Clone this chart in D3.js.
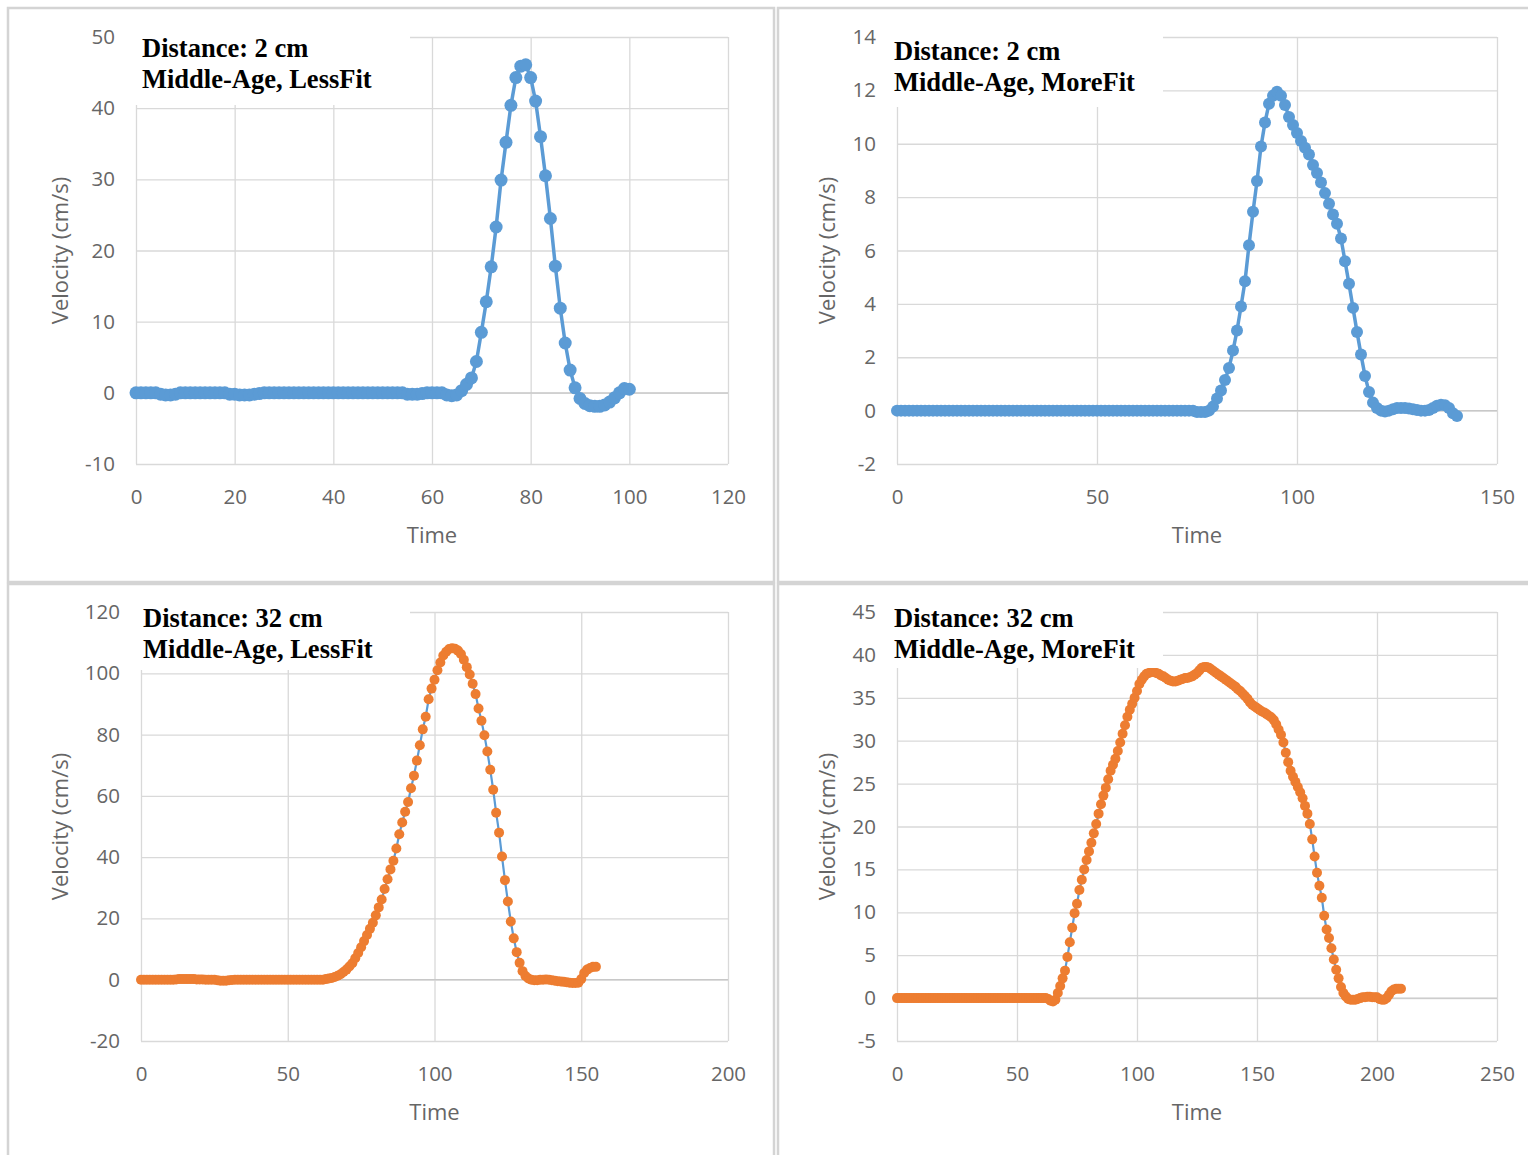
<!DOCTYPE html>
<html><head><meta charset="utf-8">
<script src="https://cdn.jsdelivr.net/npm/d3@7"></script>
<style>html,body{margin:0;padding:0;background:#fff;} svg{display:block;}</style>
</head><body><svg id="chart" width="1528" height="1155"></svg>
<script>
// ---------------- DATA (velocity in cm/s, one value per time step) ----------------
const vel2cmLessFit = [
  0,0,0,0,0,-0.2,-0.3,-0.3,-0.2,0,
  0,0,0,0,0,0,0,0,0,-0.2,
  -0.2,-0.3,-0.3,-0.3,-0.2,-0.1,0,0,0,0,
  0,0,0,0,0,0,0,0,0,0,
  0,0,0,0,0,0,0,0,0,0,
  0,0,0,0,0,-0.2,-0.2,-0.2,-0.1,0,
  0,0,0,-0.3,-0.4,-0.3,0.3,1.2,2.1,4.4,
  8.5,12.8,17.7,23.3,29.9,35.2,40.4,44.3,45.9,46.1,
  44.3,41.0,36.0,30.5,24.5,17.8,11.9,7.0,3.2,0.7,
  -0.8,-1.5,-1.8,-1.9,-1.9,-1.7,-1.3,-0.7,0,0.6,
  0.5
];
const vel2cmMoreFit = [
  0,0,0,0,0,0,0,0,0,0,
  0,0,0,0,0,0,0,0,0,0,
  0,0,0,0,0,0,0,0,0,0,
  0,0,0,0,0,0,0,0,0,0,
  0,0,0,0,0,0,0,0,0,0,
  0,0,0,0,0,0,0,0,0,0,
  0,0,0,0,0,0,0,0,0,0,
  0,0,0,0,0,-0.05,-0.05,-0.05,0,0.15,
  0.45,0.75,1.15,1.6,2.25,3.0,3.9,4.85,6.2,7.45,
  8.6,9.9,10.8,11.5,11.8,11.95,11.8,11.45,11.0,10.7,
  10.4,10.1,9.85,9.6,9.2,8.9,8.55,8.15,7.75,7.35,
  7.0,6.45,5.6,4.75,3.85,2.95,2.1,1.3,0.7,0.3,
  0.1,0.0,-0.03,0.0,0.05,0.1,0.1,0.1,0.08,0.05,
  0.02,0,0,0.02,0.1,0.18,0.22,0.2,0.1,-0.1,
  -0.2
];
const vel32cmLessFit = [
  0,0,0,0,0,0,0,0,0,0,
  0,0,0.1,0.2,0.2,0.2,0.2,0.2,0.2,0.1,
  0.1,0.1,0,0,0,0,-0.2,-0.3,-0.3,-0.3,
  -0.2,-0.1,0,0,0,0,0,0,0,0,
  0,0,0,0,0,0,0,0,0,0,
  0,0,0,0,0,0,0,0,0,0,
  0,0,0,0.2,0.4,0.6,0.9,1.3,1.8,2.5,
  3.3,4.3,5.4,7.0,8.7,10.6,12.6,14.6,16.6,18.6,
  21.0,23.6,26.2,29.6,32.8,36.0,38.8,42.8,47.5,51.3,
  54.8,58.0,62.5,66.6,71.5,76.5,81.7,85.8,91.5,95.0,
  97.9,101.0,103.5,105.8,107.0,107.9,108.2,108.0,107.4,106.3,
  104.4,102.0,99.6,96.6,93.2,88.5,84.5,79.8,74.5,68.5,
  62.0,54.5,48.0,40.2,32.5,25.5,19.0,13.5,9.0,5.5,
  2.8,1.2,0.4,0.0,-0.2,-0.2,0,0,0.1,0,
  -0.2,-0.3,-0.5,-0.6,-0.7,-0.8,-1.0,-1.1,-1.1,-1.0,
  0.2,2.2,3.3,3.8,4.2,4.2
];
const vel32cmMoreFit = [
  0,0,0,0,0,0,0,0,0,0,
  0,0,0,0,0,0,0,0,0,0,
  0,0,0,0,0,0,0,0,0,0,
  0,0,0,0,0,0,0,0,0,0,
  0,0,0,0,0,0,0,0,0,0,
  0,0,0,0,0,0,0,0,0,0,
  0,0,0,-0.1,-0.3,-0.4,-0.2,0.6,1.4,2.3,
  3.2,4.8,6.5,8.2,9.9,11.0,12.6,13.8,15.0,16.1,
  17.1,18.1,19.2,20.3,21.5,22.6,23.6,24.5,25.5,26.5,
  27.2,27.9,28.8,29.8,30.8,31.8,32.8,33.6,34.3,35.0,
  35.8,36.6,37.1,37.5,37.8,37.9,38.0,38.0,37.9,37.8,
  37.6,37.5,37.3,37.1,37.0,36.9,36.9,37.0,37.1,37.2,
  37.3,37.3,37.4,37.5,37.7,37.9,38.2,38.5,38.6,38.6,
  38.5,38.3,38.1,37.9,37.7,37.5,37.3,37.1,36.9,36.7,
  36.5,36.3,36.0,35.8,35.5,35.2,34.9,34.5,34.2,34.0,
  33.8,33.6,33.4,33.3,33.1,32.9,32.7,32.4,31.9,31.3,
  30.7,29.8,28.6,27.5,26.5,25.8,25.2,24.6,24.0,23.3,
  22.4,21.5,20.3,18.5,16.5,14.6,13.1,11.7,9.6,8.0,
  7.0,5.8,4.5,3.3,2.3,1.3,0.6,0.2,-0.1,-0.2,
  -0.2,-0.2,-0.1,0,0.1,0.1,0.15,0.15,0.1,0.1,
  0.1,-0.1,-0.2,-0.2,0.0,0.4,0.8,1.0,1.1,1.1,
  1.1
];

const xTicksA = [0,20,40,60,80,100,120];
const yTicksA = [-10,0,10,20,30,40,50];
const xTicksB = [0,50,100,150];
const yTicksB = [-2,0,2,4,6,8,10,12,14];
const xTicksC = [0,50,100,150,200];
const yTicksC = [-20,0,20,40,60,80,100,120];
const xTicksD = [0,50,100,150,200,250];
const yTicksD = [-5,0,5,10,15,20,25,30,35,40,45];

const titleLine1 = ["Distance: 2 cm","Distance: 2 cm","Distance: 32 cm","Distance: 32 cm"];
const titleLine2 = ["Middle-Age, LessFit","Middle-Age, MoreFit","Middle-Age, LessFit","Middle-Age, MoreFit"];
const xAxisTitle = "Time";
const yAxisTitle = "Velocity (cm/s)";

// ---------------- LAYOUT ----------------
const BLUE = "#5B9BD5", ORANGE = "#ED7D31", GRID = "#d9d9d9", LABEL = "#666666";
const TICKFONT = "'Open Sans', 'Liberation Sans', sans-serif";

const panels = [
  {values: vel2cmLessFit, xTicks: xTicksA, yTicks: yTicksA,
   frame: [8, 8, 766, 574], plot: {l: 136, r: 728, t: 37, b: 464},
   box: [134, 27, 276, 78], text: [142, 57, 88], fill: BLUE, r: 6.5, lw: 3.5, yTitleX: 68},
  {values: vel2cmMoreFit, xTicks: xTicksB, yTicks: yTicksB,
   frame: [778, 8, 760, 574], plot: {l: 897, r: 1497, t: 37, b: 464},
   box: [889, 27, 274, 80], text: [894, 60, 91], fill: BLUE, r: 6, lw: 3.5, yTitleX: 835},
  {values: vel32cmLessFit, xTicks: xTicksC, yTicks: yTicksC,
   frame: [8, 584, 766, 580], plot: {l: 141, r: 728, t: 612, b: 1041},
   box: [134, 600, 276, 70], text: [143, 627, 658], fill: ORANGE, r: 5, lw: 2.2, yTitleX: 68},
  {values: vel32cmMoreFit, xTicks: xTicksD, yTicks: yTicksD,
   frame: [778, 584, 760, 580], plot: {l: 897, r: 1497, t: 612, b: 1041},
   box: [889, 600, 274, 68], text: [894, 627, 658], fill: ORANGE, r: 5, lw: 2.2, yTitleX: 835}
];

const svg = d3.select("#chart");
svg.append("rect").attr("width", 1528).attr("height", 1155).attr("fill", "#fff");

panels.forEach((p, i) => {
  const g = svg.append("g");
  // panel frame
  g.append("rect").attr("x", p.frame[0]).attr("y", p.frame[1])
    .attr("width", p.frame[2]).attr("height", p.frame[3])
    .attr("fill", "#fff").attr("stroke", "#d4d4d4").attr("stroke-width", 2.5);

  const x = d3.scaleLinear().domain(d3.extent(p.xTicks)).range([p.plot.l, p.plot.r]);
  const y = d3.scaleLinear().domain(d3.extent(p.yTicks)).range([p.plot.b, p.plot.t]);
  const w = p.plot.r - p.plot.l, h = p.plot.b - p.plot.t;

  // y axis + horizontal gridlines
  const ya = g.append("g").attr("transform", `translate(${p.plot.l},0)`)
    .call(d3.axisLeft(y).tickValues(p.yTicks).tickSize(-w).tickPadding(21).tickFormat(d => String(d)));
  // x axis + vertical gridlines
  const xa = g.append("g").attr("transform", `translate(0,${p.plot.b})`)
    .call(d3.axisBottom(x).tickValues(p.xTicks).tickSize(-h).tickPadding(25).tickFormat(d => String(d)));
  [ya, xa].forEach(a => {
    a.select(".domain").remove();
    a.selectAll("line").attr("stroke", GRID).attr("stroke-width", 1.3);
    a.selectAll("text").attr("fill", LABEL).style("font-family", TICKFONT).style("font-size", "20.5px");
  });
  // zero line slightly stronger like Excel's horizontal axis
  g.append("line").attr("x1", p.plot.l).attr("x2", p.plot.r)
    .attr("y1", y(0)).attr("y2", y(0)).attr("stroke", "#c8c8c8").attr("stroke-width", 1.3);

  // axis titles
  g.append("text").attr("x", (p.plot.l + p.plot.r) / 2).attr("y", p.plot.b + 79)
    .attr("text-anchor", "middle").attr("fill", LABEL)
    .style("font-family", TICKFONT).style("font-size", "22px").text(xAxisTitle);
  g.append("text").attr("transform", `translate(${p.yTitleX},${(p.plot.t + p.plot.b) / 2}) rotate(-90)`)
    .attr("text-anchor", "middle").attr("fill", LABEL)
    .style("font-family", TICKFONT).style("font-size", "22px").text(yAxisTitle);

  // series
  const pts = p.values.map((v, t) => ({t, v}));
  const line = d3.line().x(d => x(d.t)).y(d => y(d.v));
  g.append("path").datum(pts).attr("d", line).attr("fill", "none")
    .attr("stroke", BLUE).attr("stroke-width", p.lw).attr("stroke-linejoin", "round");
  g.append("g").selectAll("circle").data(pts).join("circle")
    .attr("cx", d => x(d.t)).attr("cy", d => y(d.v)).attr("r", p.r).attr("fill", p.fill);

  // title text box (covers gridlines)
  g.append("rect").attr("x", p.box[0]).attr("y", p.box[1]).attr("width", p.box[2]).attr("height", p.box[3])
    .attr("fill", "#fff");
  g.append("text").attr("x", p.text[0]).attr("y", p.text[1])
    .style("font-family", "'Liberation Serif', 'Times New Roman', serif").style("font-weight", "bold")
    .style("font-size", "26.5px").attr("fill", "#000").text(titleLine1[i]);
  g.append("text").attr("x", p.text[0]).attr("y", p.text[2])
    .style("font-family", "'Liberation Serif', 'Times New Roman', serif").style("font-weight", "bold")
    .style("font-size", "26.5px").attr("fill", "#000").text(titleLine2[i]);
});
</script>
</body></html>
